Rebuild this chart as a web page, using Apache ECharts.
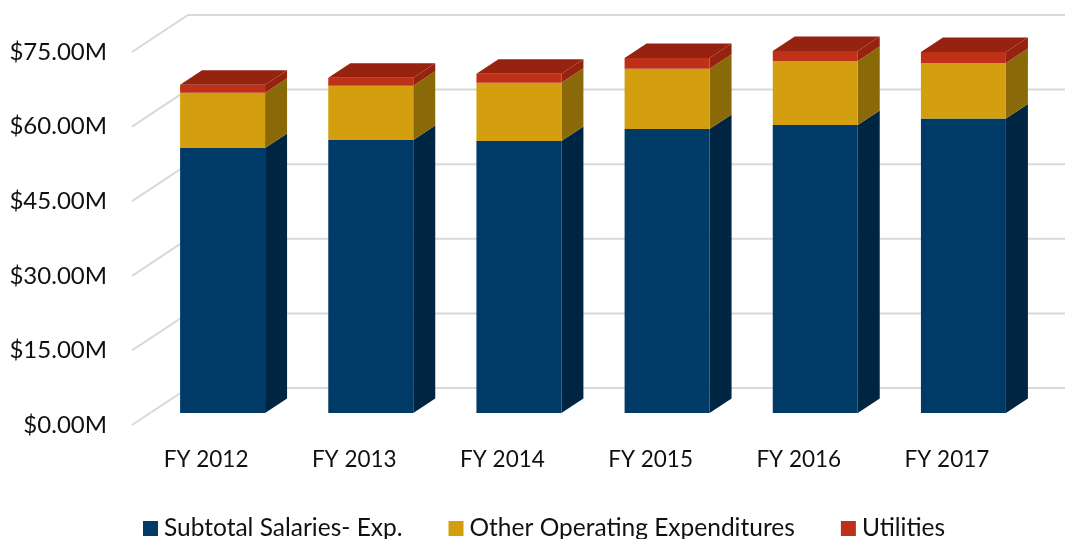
<!DOCTYPE html>
<html>
<head>
<meta charset="utf-8">
<title>Expenditures by fiscal year</title>
<style>
  html, body { margin: 0; padding: 0; background: #fff; }
  #chart { width: 1065px; height: 539px; }
</style>
<script src="https://cdn.jsdelivr.net/npm/echarts@6/dist/echarts.min.js"></script>
</head>
<body>
<div id="chart"></div>
<script>
// values in $M
const years = ['FY 2012', 'FY 2013', 'FY 2014', 'FY 2015', 'FY 2016', 'FY 2017']
const salaries = [53.3, 54.9, 54.7, 57.1, 57.9, 59.2]
const otherOperating = [11.1, 10.9, 11.7, 12.1, 12.9, 11.2]
const utilities = [1.6, 1.6, 1.8, 2.2, 2.0, 2.2]
const ticks = [0, 15, 30, 45, 60, 75]

const FONT = 'Lato'
const TEXT = '#111'
const myChart = echarts.init(document.getElementById('chart'), null, { renderer: 'canvas' })

// 3d look: how far the back wall and the bar sit from the front plane, in px
const wallDepth = [56, -37]
const barShift = [16.5, -12]
const barDepth = [22, -14.5]
const barRatio = 85 / 148.2

function poly (points, fill) {
  return { type: 'polygon', shape: { points }, style: { fill }, silent: true }
}

function renderWall (params, api) {
  const top = api.coord([years.length - 1, api.value(0)])
  const left = api.coord([0, api.value(0)])
  const band = api.size([1, 0])[0]
  const x0 = left[0] - band / 2
  const x1 = top[0] + band / 2
  return {
    type: 'polyline',
    shape: { points: [[x0, left[1]], [x0 + wallDepth[0], left[1] + wallDepth[1]], [x1 + wallDepth[0], left[1] + wallDepth[1]]] },
    style: { stroke: '#d9d9d9', lineWidth: 2, fill: null },
    silent: true
  }
}

function barRenderer (front, side, top) {
  return function (params, api) {
    const i = api.value(0)
    const a = api.coord([i, api.value(1)])
    const b = api.coord([i, api.value(2)])
    const w = api.size([1, 0])[0] * barRatio
    const x0 = a[0] + barShift[0] - w / 2
    const x1 = x0 + w
    const y0 = a[1] + barShift[1]
    const y1 = b[1] + barShift[1]
    const dx = barDepth[0]
    const dy = barDepth[1]
    const children = [
      poly([[x1, y0], [x1 + dx, y0 + dy], [x1 + dx, y1 + dy], [x1, y1]], side),
      poly([[x0, y0], [x1, y0], [x1, y1], [x0, y1]], front)
    ]
    if (top) {
      children.push(poly([[x0, y1], [x1, y1], [x1 + dx, y1 + dy], [x0 + dx, y1 + dy]], top))
    }
    return { type: 'group', children }
  }
}

// start/end of every segment, stacked by hand because custom series do not stack
function segments (values, below) {
  return values.map((v, i) => {
    const start = below.reduce((sum, arr) => sum + arr[i], 0)
    return [i, start, start + v]
  })
}

function stackSeries (name, values, below, front, side, top) {
  return {
    name,
    type: 'custom',
    coordinateSystem: 'cartesian2d',
    clip: false,
    z: 3,
    itemStyle: { color: front },
    encode: { x: 0, y: [1, 2] },
    data: segments(values, below),
    renderItem: barRenderer(front, side, top)
  }
}

myChart.setOption({
  animation: false,
  backgroundColor: '#fff',
  textStyle: { fontFamily: FONT },
  grid: { left: 132, top: 52, width: 889, height: 373 },
  legend: {
    left: 143,
    top: 516,
    itemWidth: 15,
    itemHeight: 15,
    itemGap: 46,
    icon: 'rect',
    padding: 0,
    selectedMode: false,
    data: ['Subtotal Salaries- Exp.', 'Other Operating Expenditures', 'Utilities'],
    textStyle: { fontFamily: FONT, fontSize: 24.5, color: TEXT, padding: [0, 0, 0, 1] }
  },
  xAxis: {
    type: 'category',
    data: years,
    axisLine: { show: false },
    axisTick: { show: false },
    axisLabel: { fontFamily: FONT, fontSize: 22.5, color: TEXT, margin: 23 }
  },
  yAxis: {
    type: 'value',
    min: ticks[0],
    max: ticks[ticks.length - 1],
    interval: 15,
    axisLine: { show: false },
    axisTick: { show: false },
    splitLine: { show: false },
    axisLabel: {
      fontFamily: FONT,
      fontSize: 24,
      color: TEXT,
      margin: 25,
      padding: [4, 0, 0, 0],
      formatter: v => '$' + v.toFixed(2) + 'M'
    }
  },
  series: [
    {
      type: 'custom',
      coordinateSystem: 'cartesian2d',
      clip: false,
      z: 1,
      silent: true,
      encode: { y: 0 },
      data: ticks.map(t => [t]),
      renderItem: renderWall
    },
    stackSeries('Subtotal Salaries- Exp.', salaries, [], '#003a66', '#002542'),
    stackSeries('Other Operating Expenditures', otherOperating, [salaries], '#d49f0f', '#8a6a08'),
    stackSeries('Utilities', utilities, [salaries, otherOperating], '#bf3018', '#952310', '#952310')
  ]
})
</script>
</body>
</html>
